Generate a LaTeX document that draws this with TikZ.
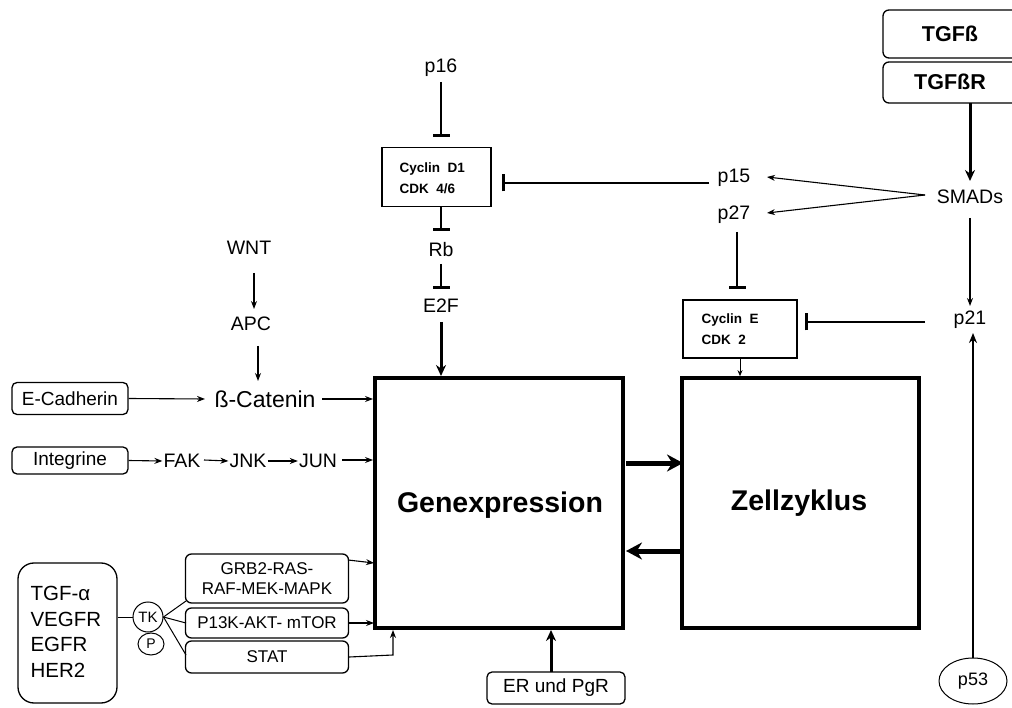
\documentclass[tikz,border=0pt]{standalone}
\usepackage{fontspec}
\setmainfont{Liberation Sans}
\usetikzlibrary{arrows.meta,shapes.geometric}
\begin{document}
\begin{tikzpicture}[x=1pt,y=-1pt,
  lbl/.style={font=\fontsize{19.5}{22}\selectfont, inner sep=1pt},
  rbox/.style={draw, rounded corners=6pt, line width=1.3pt, inner sep=0pt},
  bigbox/.style={draw, line width=3.6pt, inner sep=0pt},
  cbox/.style={draw, line width=1.6pt, inner sep=0pt},
  arr/.style={-{Stealth[length=8pt,width=6pt]}, line width=1.1pt},
  thickarr/.style={-{Stealth[length=11pt,width=10pt]}, line width=3pt},
  fatarr/.style={-{Stealth[length=16pt,width=17pt]}, line width=5pt},
  inh/.style={-{Bar[width=17pt,line width=3.2pt]}, line width=2.8pt},
]
\useasboundingbox (0,0) rectangle (1012,708);

% main boxes
\node[bigbox, minimum width=248pt, minimum height=250pt] (gen) at (499,503) {};
\node[font=\bfseries\fontsize{28.5}{30}\selectfont] at (500,505) {Genexpression};
\node[bigbox, minimum width=237pt, minimum height=250pt] (zell) at (800.5,503) {};
\node[font=\bfseries\fontsize{28.5}{30}\selectfont] at (799,503) {Zellzyklus};

\coordinate (g1) at (626,463); \coordinate (z1) at (683,463);
\draw[fatarr] (g1) -- (z1);
\coordinate (g2) at (626,551); \coordinate (z2) at (683,551);
\draw[fatarr] (z2) -- (g2);

% Cyclin D1 box
\node[cbox, minimum width=109pt, minimum height=59pt] (cd1) at (436.5,177) {};
\node[font=\bfseries\fontsize{13.5}{21}\selectfont, align=left, anchor=west] at (396,178) {Cyclin\ \ D1\\CDK\ \ 4/6};

\node[lbl] (p16) at (441,68) {p16};
\node[lbl] (rb) at (441,250) {Rb};
\node[lbl] (e2f) at (441,306) {E2F};
\coordinate (cd1b) at (441,207);
\draw[inh] (441,82) -- (441,137);
\draw[inh] (cd1b) -- (441,231);
\draw[inh] (441,264) -- (441,289);
\draw[thickarr] (441,322) -- (441,376);

% p15, p27, SMADs
\node[lbl] (p15) at (734,178) {p15};
\node[lbl] (p27) at (734,215) {p27};
\node[lbl] (smads) at (970,197) {SMADs};
\coordinate (cd1e) at (502,183);
\draw[inh] (709,183) -- (cd1e);
\coordinate (sm) at (925,195);
\draw[arr] (sm) -- (767,177);
\draw[arr] (sm) -- (767,213);

% Cyclin E
\node[cbox, minimum width=114pt, minimum height=58pt] (ce) at (740,329) {};
\node[font=\bfseries\fontsize{13.5}{21}\selectfont, align=left, anchor=west] at (698,329) {Cyclin\ \ E\\CDK\ \ 2};
\coordinate (cet) at (737,289);
\draw[inh] (737,232) -- (cet);
\coordinate (cee) at (805,322);
\draw[inh] (925,322) -- (cee);
\draw[-{Stealth[length=6pt,width=5pt]}, line width=1pt] (ce.south) -- (zell.north -| ce.south);

% TGF
\node[rbox, minimum width=137pt, minimum height=48pt, font=\bfseries\fontsize{21.5}{23}\selectfont] (tgfb) at (951.5,34) {};
\node[font=\bfseries\fontsize{21.5}{23}\selectfont] at (950,34) {TGFß};
\node[rbox, minimum width=137pt, minimum height=41pt] (tgfbr) at (951.5,82.5) {};
\node[font=\bfseries\fontsize{21.5}{23}\selectfont] at (950,82) {TGFßR};
\draw[thickarr] (970,103) -- (970,181);
\draw[arr] (970,218) -- (970,306);

% p21, p53
\node[lbl] (p21) at (970,320) {p21};
\node[draw, ellipse, line width=1pt, minimum width=68pt, minimum height=46pt, font=\fontsize{18}{20}\selectfont] (p53) at (973,681) {p53};
\draw[-{Stealth[length=10pt,width=8pt]}, line width=2.2pt] (p53.north) -- (973,333);

% WNT pathway
\node[lbl] (wnt) at (249,248) {WNT};
\node[lbl] (apc) at (251,324) {APC};
\node[font=\fontsize{23}{26}\selectfont, inner sep=1pt] (bcat) at (265,399) {ß-Catenin};
\draw[arr] (254,273) -- (254,309);
\draw[arr] (258,346) -- (258,381);
\draw[arr] (322,399) -- (373,399);

\node[rbox, rounded corners=5pt, minimum width=116pt, minimum height=32pt, font=\fontsize{19}{21}\selectfont] (ecad) at (70,398.5) {E-Cadherin};
\draw[arr] (ecad.east) -- (205,399);

\node[rbox, rounded corners=5pt, minimum width=116pt, minimum height=27pt, font=\fontsize{19}{21}\selectfont] (integ) at (70,460.5) {Integrine};
\node[lbl] (fak) at (182,461) {FAK};
\node[lbl] (jnk) at (248,461) {JNK};
\node[lbl] (jun) at (318,461) {JUN};
\draw[arr] (integ.east) -- (fak.west);
\draw[arr] (204,460) -- (jnk.west);
\draw[arr] (jnk.east) -- (jun.west);
\draw[arr] (342,460) -- (373,460);

% receptor box
\node[rbox, rounded corners=16pt, minimum width=99pt, minimum height=140pt] (rec) at (67.5,633) {};
\node[font=\fontsize{20.5}{25.5}\selectfont, align=left, anchor=west] at (27,632) {TGF-α\\VEGFR\\EGFR\\HER2};
\node[draw, circle, line width=1pt, minimum size=30pt, inner sep=0pt, font=\fontsize{15}{17}\selectfont] (tk) at (148,617) {TK};
\node[draw, ellipse, line width=1pt, minimum width=26pt, minimum height=22pt, inner sep=0pt, font=\fontsize{14}{16}\selectfont] (p) at (151,644) {P};
\draw[line width=1pt] (rec.east |- tk) -- (tk.west);

\node[rbox, minimum width=163pt, minimum height=49pt, align=center, font=\fontsize{17}{20}\selectfont] (grb) at (267,578.5) {GRB2-RAS-\\RAF-MEK-MAPK};
\node[rbox, minimum width=163pt, minimum height=30pt, font=\fontsize{17}{19}\selectfont] (pi3k) at (267,623) {P13K-AKT- mTOR};
\node[rbox, minimum width=163pt, minimum height=32pt, font=\fontsize{17}{19}\selectfont] (stat) at (267,657) {STAT};
\draw[line width=1pt] (tk.east) -- (186,601);
\draw[line width=1pt] (tk.east) -- (186,623);
\draw[line width=1pt] (tk.east) -- (186,655);

\draw[arr] (348,560) -- (374,563);
\draw[arr] (pi3k.east) -- (374,623);
\draw[arr] (stat.east) -- (393,655) -- (393,630);

% ER und PgR
\node[rbox, rounded corners=5pt, minimum width=138pt, minimum height=32pt, font=\fontsize{19}{21}\selectfont] (er) at (556,688) {ER und PgR};
\draw[thickarr] (551,672) -- (551,630);
\end{tikzpicture}
\end{document}
